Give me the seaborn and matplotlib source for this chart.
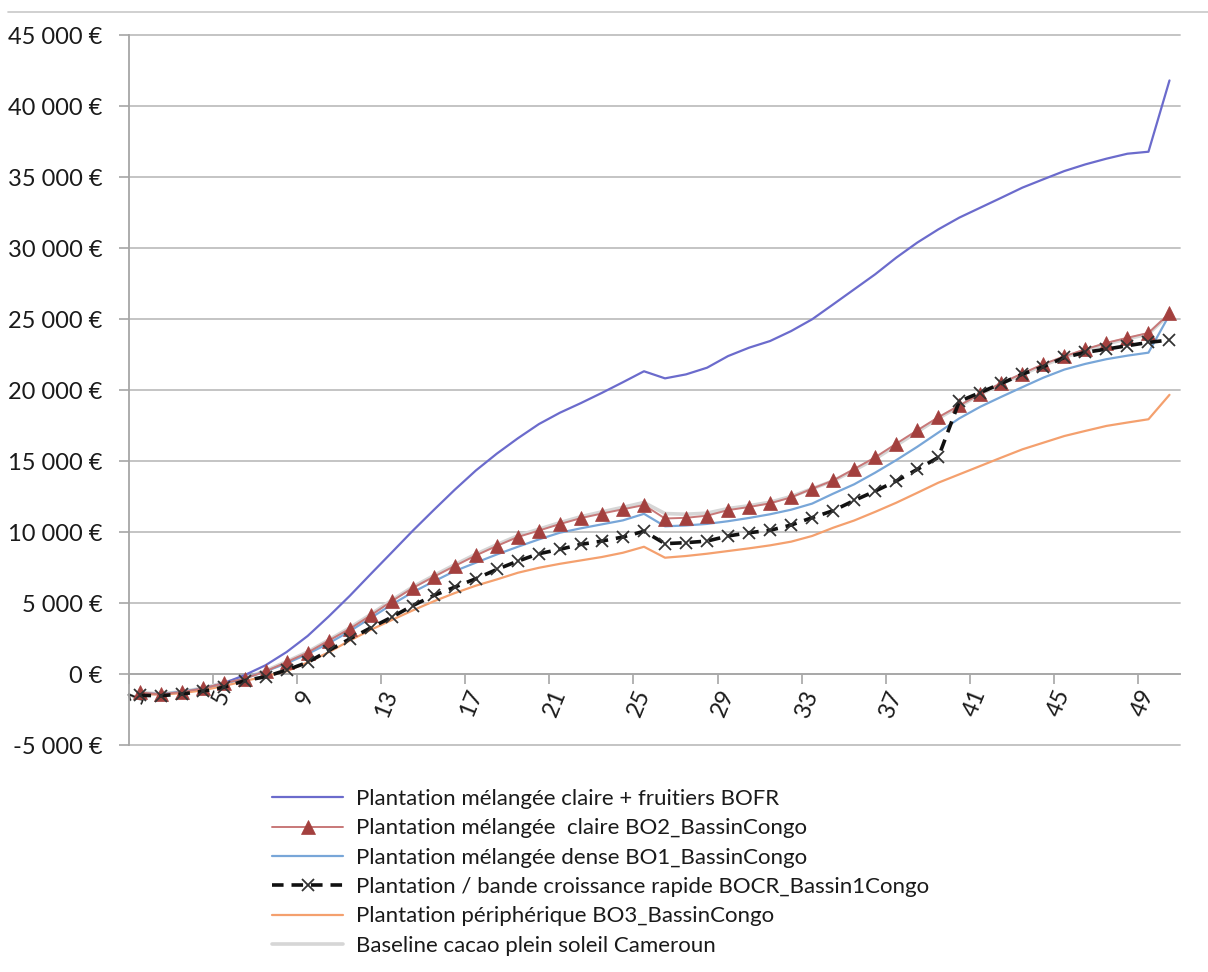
import matplotlib
matplotlib.use("Agg")
import matplotlib.pyplot as plt
import seaborn as sns
from matplotlib.ticker import FixedLocator, FuncFormatter
from matplotlib.lines import Line2D

# Years of the simulation (category axis)
years = list(range(1, 51))

# Cumulated net value per hectare (EUR) for each agroforestry system
bofr = [-1400, -1420, -1300, -1060, -650, -80, 620, 1550, 2680, 4050,
        5500, 7040, 8560, 10090, 11550, 12980, 14330, 15520, 16600, 17600,
        18400, 19080, 19800, 20550, 21320, 20820, 21100, 21570, 22390, 22980,
        23450, 24150, 24980, 26030, 27090, 28150, 29320, 30380, 31310, 32140,
        32840, 33540, 34250, 34840, 35420, 35890, 36290, 36640, 36780, 41800]

bo2 = [-1300, -1430, -1270, -1020, -650, -320, 190, 840, 1510, 2350,
       3180, 4130, 5130, 6060, 6850, 7610, 8350, 9020, 9650, 10100,
       10560, 10980, 11300, 11600, 11900, 10950, 11000, 11150, 11540, 11760,
       12020, 12440, 13050, 13630, 14440, 15260, 16220, 17160, 18080, 18910,
       19720, 20490, 21160, 21820, 22370, 22870, 23320, 23680, 24020, 25400]

bo1 = [-1360, -1410, -1250, -1010, -700, -300, 190, 750, 1410, 2160,
       3010, 3950, 4890, 5760, 6520, 7250, 7840, 8420, 8960, 9480,
       9950, 10260, 10540, 10820, 11280, 10400, 10460, 10570, 10760, 10990,
       11250, 11570, 12000, 12700, 13360, 14180, 15060, 16000, 17000, 18000,
       18820, 19520, 20200, 20870, 21440, 21840, 22170, 22420, 22630, 25300]

bocr = [-1500, -1530, -1410, -1220, -940, -470, -190, 280, 820, 1650,
        2470, 3250, 4000, 4820, 5530, 6120, 6710, 7365, 7950, 8470,
        8780, 9130, 9360, 9650, 10050, 9180, 9250, 9360, 9720, 9950,
        10120, 10490, 11010, 11500, 12220, 12880, 13590, 14410, 15250, 19200,
        19820, 20460, 21120, 21640, 22290, 22650, 22880, 23120, 23350, 23520]

bo3 = [-1400, -1450, -1350, -1150, -850, -500, -150, 190, 820, 1530,
       2350, 3110, 3800, 4480, 5120, 5700, 6220, 6660, 7130, 7480,
       7760, 8000, 8240, 8540, 8960, 8190, 8310, 8470, 8660, 8850,
       9060, 9320, 9720, 10300, 10810, 11420, 12060, 12760, 13470, 14060,
       14650, 15240, 15820, 16290, 16760, 17120, 17470, 17710, 17940, 19660]

baseline = [-1300, -1400, -1250, -1000, -620, -280, 230, 880, 1560, 2400,
            3250, 4200, 5200, 6130, 6930, 7700, 8440, 9110, 9740, 10200,
            10660, 11080, 11420, 11740, 12080, 11300, 11250, 11330, 11650, 11850,
            12100, 12500, 13050, 13600, 14350, 15150, 16100, 17050, 18000, 18850,
            19700, 20450, 21100, 21750, 22300, 22800, 23250, 23600, 23950, 25350]

labels = [
    "Plantation mélangée claire + fruitiers BOFR",
    "Plantation mélangée  claire BO2_BassinCongo",
    "Plantation mélangée dense BO1_BassinCongo",
    "Plantation / bande croissance rapide BOCR_Bassin1Congo",
    "Plantation périphérique BO3_BassinCongo",
    "Baseline cacao plein soleil Cameroun",
]

year_ticks = list(range(1, 51, 4))
value_ticks = list(range(-5000, 45001, 5000))

sns.set_theme(style="white")
plt.rcParams["font.family"] = ["Lato", "DejaVu Sans"]

W, H = 1208, 972
fig = plt.figure(figsize=(W / 100, H / 100), dpi=100)
ax = fig.add_axes([129 / W, 1 - 745 / H, (1180 - 129) / W, (745 - 35) / H])

styles = [
    dict(color="#6b6bcc", lw=1.6, zorder=3),
    dict(color="#c87878", lw=1.4, marker="^", markersize=10,
         markerfacecolor="#a3403e", markeredgecolor="#a3403e", markeredgewidth=0.5, zorder=4),
    dict(color="#78a6d8", lw=1.6, zorder=3),
    dict(color="#111111", lw=2.6, linestyle=(0, (3.2, 2.2)), marker="x", markersize=9,
         markeredgecolor="#333333", markeredgewidth=1.3, zorder=5),
    dict(color="#f4a06e", lw=1.6, zorder=3),
    dict(color="#d6d6d6", lw=2.6, zorder=2),
]

series = [bofr, bo2, bo1, bocr, bo3, baseline]
for values, label, st in zip(series, labels, styles):
    sns.lineplot(x=years, y=values, ax=ax, label=label, legend=False,
                 estimator=None, sort=False, **st)

ax.set_xlabel("")
ax.set_ylabel("")
ax.set_xlim(0.5, 50.5)
ax.set_ylim(-5000, 45000)

# y axis: values in euros with a space as thousands separator
ax.yaxis.set_major_locator(FixedLocator(value_ticks))
ax.yaxis.set_major_formatter(FuncFormatter(lambda v, p: f"{v:,.0f} €".replace(",", " ")))
ax.grid(axis="y", color="#bfbfbf", lw=1.3)
ax.grid(axis="x", visible=False)
for gl in ax.yaxis.get_gridlines():
    gl.set_clip_on(False)
ax.tick_params(axis="y", which="major", left=True, length=7, width=1.2,
               color="#a6a6a6", direction="out", pad=12, labelsize=17,
               labelcolor="#1a1a1a")

# x axis crosses at zero: tick marks between categories, labels on categories
ax.spines["bottom"].set_position(("data", 0))
for side in ("top", "right"):
    ax.spines[side].set_visible(False)
for side in ("left", "bottom"):
    ax.spines[side].set_color("#a6a6a6")
    ax.spines[side].set_linewidth(1.3)
ax.xaxis.set_major_locator(FixedLocator(year_ticks))
ax.xaxis.set_minor_locator(FixedLocator([t - 0.5 for t in year_ticks]))
ax.set_xticklabels([str(t) for t in year_ticks], rotation=68, ha="right",
                   va="center", rotation_mode="anchor")
ax.tick_params(axis="x", which="major", bottom=True, length=0, pad=12,
               labelsize=17, labelcolor="#1a1a1a")
ax.tick_params(axis="x", which="minor", bottom=True, length=7, width=1.2,
               color="#a6a6a6", direction="out")

# thin rule across the top of the figure
fig.add_artist(Line2D([8 / W, 1], [1 - 12.5 / H] * 2, color="#c8c8c8", lw=1.2))

handles, hlabels = ax.get_legend_handles_labels()
fig.legend(handles, hlabels, loc="upper left", bbox_to_anchor=(272 / W, 1 - 789 / H),
           frameon=False, fontsize=16, handlelength=3.2, handletextpad=0.6,
           labelspacing=0.42, borderaxespad=0, borderpad=0, numpoints=1,
           labelcolor="#1a1a1a")

fig.savefig("out.png", dpi=100)
